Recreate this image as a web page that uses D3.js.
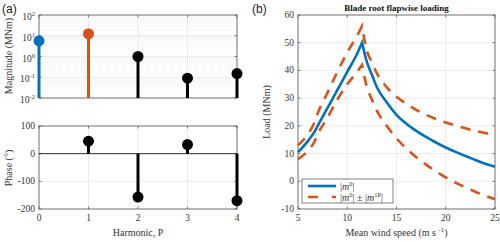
<!DOCTYPE html>
<html>
<head>
<meta charset="utf-8">
<script src="https://cdn.jsdelivr.net/npm/d3@7"></script>
<style>
body { margin: 0; background: #fff; }
svg { font-family: "Liberation Serif", "DejaVu Serif", serif; }
.tick text { fill: #333; font-size: 9.5px; }
</style>
</head>
<body>
<svg id="chart" width="500" height="242"></svg>
<script>
// (a) harmonic content
var harmonics = [0, 1, 2, 3, 4];
var magnitude = [5.7, 12.5, 1.0, 0.09, 0.15];
var magColors = ["#0072BD", "#D95319", "#000", "#000", "#000"];
var phaseHarm = [1, 2, 3, 4];
var phase = [45, -157, 33, -170];

// (b) blade root flapwise loading
var windSpeed = [5, 6, 6.7, 7, 8, 9, 10, 11, 11.5, 12, 12.5, 13, 14, 15, 16, 17, 18, 19, 20, 21, 22, 23, 24, 25];
var loadMean  = [10.5, 14.5, 18, 20, 26.5, 33, 39.5, 46, 50, 43, 38.5, 34, 28.5, 24, 20.8, 18.2, 16, 14, 12.2, 10.6, 9.1, 7.7, 6.3, 5.2];
var loadUpper = [13, 17, 21.5, 24.5, 32, 39.5, 46.5, 52.5, 56, 47, 43, 39, 34, 30.5, 28, 25.8, 24, 22.5, 21.2, 20.1, 19.1, 18.2, 17.4, 16.7];
var loadLower = [8, 11, 14.5, 17, 23, 29.5, 35, 39.5, 42, 34, 29.5, 25.5, 20, 15.5, 11.8, 8.7, 6, 3.6, 1.4, -0.5, -2.2, -3.8, -5.2, -6.5];
var peakIdx = 8;

var svg = d3.select("#chart");
var gridCol = "#e3e3e3", axisCol = "#4d4d4d";

function box(x0, x1, y0, y1) {
  svg.append("rect").attr("x", x0).attr("y", y0).attr("width", x1 - x0).attr("height", y1 - y0)
    .attr("fill", "none").attr("stroke", axisCol).attr("stroke-width", 0.8);
}
function tickMarks(xs, ys, xvals, yvals, x0, x1, y0, y1) {
  var g = svg.append("g").attr("stroke", axisCol).attr("stroke-width", 0.7);
  xvals.forEach(function(v) {
    g.append("line").attr("x1", xs(v)).attr("x2", xs(v)).attr("y1", y1).attr("y2", y1 - 2.5);
    g.append("line").attr("x1", xs(v)).attr("x2", xs(v)).attr("y1", y0).attr("y2", y0 + 2.5);
  });
  yvals.forEach(function(v) {
    g.append("line").attr("y1", ys(v)).attr("y2", ys(v)).attr("x1", x0).attr("x2", x0 + 2.5);
    g.append("line").attr("y1", ys(v)).attr("y2", ys(v)).attr("x1", x1).attr("x2", x1 - 2.5);
  });
}

// ---------- (a) top: magnitude ----------
var ax0 = 39, ax1 = 237;
var xa = d3.scaleLinear().domain([0, 4]).range([ax0, ax1]);
var ym = d3.scaleLog().domain([1e-2, 1e2]).range([98, 15]);

// minor grid (dotted)
var minor = [];
[0.01, 0.1, 1, 10].forEach(function(d) { for (var k = 2; k <= 9; k++) minor.push(d * k); });
svg.append("g").selectAll("line").data(minor).join("line")
  .attr("x1", ax0).attr("x2", ax1).attr("y1", d => ym(d)).attr("y2", d => ym(d))
  .attr("stroke", "#e8e8e8").attr("stroke-width", 0.6).attr("stroke-dasharray", "1,1");
svg.append("g").selectAll("line").data([1e-1, 1, 10]).join("line")
  .attr("x1", ax0).attr("x2", ax1).attr("y1", d => ym(d)).attr("y2", d => ym(d))
  .attr("stroke", gridCol).attr("stroke-width", 0.7);
svg.append("g").selectAll("line").data([1, 2, 3]).join("line")
  .attr("x1", d => xa(d)).attr("x2", d => xa(d)).attr("y1", 15).attr("y2", 98)
  .attr("stroke", gridCol).attr("stroke-width", 0.7);
box(ax0, ax1, 15, 98);
tickMarks(xa, ym, harmonics, [1e-2, 1e-1, 1, 10, 100], ax0, ax1, 15, 98);

var decades = [-2, -1, 0, 1, 2];
var ylab = svg.append("g").attr("font-size", 9.5).attr("fill", "#333").attr("text-anchor", "end");
decades.forEach(function(e) {
  var t = ylab.append("text").attr("x", ax0 - 4).attr("y", ym(Math.pow(10, e)) + 5);
  t.append("tspan").text("10");
  t.append("tspan").attr("dy", -4).attr("font-size", 6.5).text(e);
});

svg.append("g").selectAll("line").data(harmonics).join("line")
  .attr("x1", d => xa(d)).attr("x2", d => xa(d))
  .attr("y1", 98).attr("y2", (d, i) => ym(magnitude[i]))
  .attr("stroke", (d, i) => magColors[i]).attr("stroke-width", 3);
svg.append("g").selectAll("circle").data(harmonics).join("circle")
  .attr("cx", d => xa(d)).attr("cy", (d, i) => ym(magnitude[i])).attr("r", 5.5)
  .attr("fill", (d, i) => magColors[i]);

// ---------- (a) bottom: phase ----------
var yp = d3.scaleLinear().domain([-200, 100]).range([209, 126]);
svg.append("g").selectAll("line").data([-100, 0]).join("line")
  .attr("x1", ax0).attr("x2", ax1).attr("y1", d => yp(d)).attr("y2", d => yp(d))
  .attr("stroke", gridCol).attr("stroke-width", 0.7);
svg.append("g").selectAll("line").data([1, 2, 3]).join("line")
  .attr("x1", d => xa(d)).attr("x2", d => xa(d)).attr("y1", 126).attr("y2", 209)
  .attr("stroke", gridCol).attr("stroke-width", 0.7);
box(ax0, ax1, 126, 209);
tickMarks(xa, yp, harmonics, [-200, -100, 0, 100], ax0, ax1, 126, 209);

svg.append("g").attr("class", "tick").selectAll("text").data([-200, -100, 0, 100]).join("text")
  .attr("x", ax0 - 4).attr("y", d => yp(d) + 3).attr("text-anchor", "end").text(d => d);
svg.append("g").attr("class", "tick").selectAll("text").data(harmonics).join("text")
  .attr("x", d => xa(d)).attr("y", 221).attr("text-anchor", "middle").text(d => d);

svg.append("line").attr("x1", ax0).attr("x2", ax1).attr("y1", yp(0)).attr("y2", yp(0))
  .attr("stroke", "#000").attr("stroke-width", 0.8);
svg.append("g").selectAll("line").data(phaseHarm).join("line")
  .attr("x1", d => xa(d)).attr("x2", d => xa(d))
  .attr("y1", yp(0)).attr("y2", (d, i) => yp(phase[i]))
  .attr("stroke", "#000").attr("stroke-width", 3);
svg.append("g").selectAll("circle").data(phaseHarm).join("circle")
  .attr("cx", d => xa(d)).attr("cy", (d, i) => yp(phase[i])).attr("r", 5.5).attr("fill", "#000");

svg.append("text").attr("transform", "translate(12,56) rotate(-90)").attr("text-anchor", "middle")
  .attr("font-size", 10).attr("fill", "#333").text("Magnitude (MNm)");
svg.append("text").attr("transform", "translate(12,168) rotate(-90)").attr("text-anchor", "middle")
  .attr("font-size", 10).attr("fill", "#333").text("Phase (°)");
svg.append("text").attr("x", xa(2)).attr("y", 236).attr("text-anchor", "middle")
  .attr("font-size", 10).attr("fill", "#333").text("Harmonic, P");
svg.append("text").attr("x", 2).attr("y", 13).attr("font-family", "Liberation Sans, Arial, sans-serif")
  .attr("font-size", 12).attr("fill", "#222").text("(a)");

// ---------- (b) ----------
var bx0 = 298, bx1 = 495, by0 = 15, by1 = 209;
var xb = d3.scaleLinear().domain([5, 25]).range([bx0, bx1]);
var yb = d3.scaleLinear().domain([-10, 60]).range([by1, by0]);
var xbT = [5, 10, 15, 20, 25], ybT = [-10, 0, 10, 20, 30, 40, 50, 60];

svg.append("g").selectAll("line").data([10, 15, 20]).join("line")
  .attr("x1", d => xb(d)).attr("x2", d => xb(d)).attr("y1", by0).attr("y2", by1)
  .attr("stroke", gridCol).attr("stroke-width", 0.7);
svg.append("g").selectAll("line").data([0, 10, 20, 30, 40, 50]).join("line")
  .attr("x1", bx0).attr("x2", bx1).attr("y1", d => yb(d)).attr("y2", d => yb(d))
  .attr("stroke", gridCol).attr("stroke-width", 0.7);
box(bx0, bx1, by0, by1);
tickMarks(xb, yb, xbT, ybT, bx0, bx1, by0, by1);

svg.append("g").attr("class", "tick").selectAll("text").data(ybT).join("text")
  .attr("x", bx0 - 4).attr("y", d => yb(d) + 3).attr("text-anchor", "end").text(d => d);
svg.append("g").attr("class", "tick").selectAll("text").data(xbT).join("text")
  .attr("x", d => xb(d)).attr("y", 221).attr("text-anchor", "middle").text(d => d);

// smooth on each side of the peak, sharp corner at the peak
var seg = d3.line().x(d => xb(d[0])).y(d => yb(d[1])).curve(d3.curveMonotoneX);
function curvePath(vals) {
  var pts = windSpeed.map((w, i) => [w, vals[i]]);
  var a = seg(pts.slice(0, peakIdx + 1));
  var b = seg(pts.slice(peakIdx)).replace(/^M[^LC]*/, "");
  return a + b;
}
svg.append("path").attr("d", curvePath(loadUpper)).attr("fill", "none")
  .attr("stroke", "#D95319").attr("stroke-width", 2.6).attr("stroke-dasharray", "10,8");
svg.append("path").attr("d", curvePath(loadLower)).attr("fill", "none")
  .attr("stroke", "#D95319").attr("stroke-width", 2.6).attr("stroke-dasharray", "10,8");
svg.append("path").attr("d", curvePath(loadMean)).attr("fill", "none")
  .attr("stroke", "#0072BD").attr("stroke-width", 2.6);

// legend
svg.append("rect").attr("x", 302).attr("y", 179).attr("width", 91).attr("height", 24)
  .attr("fill", "#fff").attr("stroke", axisCol).attr("stroke-width", 0.7);
svg.append("line").attr("x1", 308).attr("x2", 336).attr("y1", 186).attr("y2", 186)
  .attr("stroke", "#0072BD").attr("stroke-width", 2.6);
svg.append("line").attr("x1", 308).attr("x2", 336).attr("y1", 197).attr("y2", 197)
  .attr("stroke", "#D95319").attr("stroke-width", 2.6).attr("stroke-dasharray", "10,14");
var l1 = svg.append("text").attr("x", 340).attr("y", 189.5).attr("font-size", 10).attr("fill", "#333");
l1.append("tspan").text("|");
l1.append("tspan").attr("font-style", "italic").text("m");
l1.append("tspan").attr("dy", -4).attr("font-size", 6.5).text("0");
l1.append("tspan").attr("dy", 4).text("|");
var l2 = svg.append("text").attr("x", 340).attr("y", 200.5).attr("font-size", 10).attr("fill", "#333");
l2.append("tspan").text("|");
l2.append("tspan").attr("font-style", "italic").text("m");
l2.append("tspan").attr("dy", -4).attr("font-size", 6.5).text("0");
l2.append("tspan").attr("dy", 4).text("| ± |");
l2.append("tspan").attr("font-style", "italic").text("m");
l2.append("tspan").attr("dy", -4).attr("font-size", 6.5).text("1P");
l2.append("tspan").attr("dy", 4).text("|");

svg.append("text").attr("x", (bx0 + bx1) / 2).attr("y", 11).attr("text-anchor", "middle")
  .attr("font-size", 9).attr("font-weight", "bold").attr("fill", "#111").text("Blade root flapwise loading");
svg.append("text").attr("transform", "translate(270,112) rotate(-90)").attr("text-anchor", "middle")
  .attr("font-size", 10).attr("fill", "#333").text("Load (MNm)");
var xl = svg.append("text").attr("x", (bx0 + bx1) / 2).attr("y", 236).attr("text-anchor", "middle")
  .attr("font-size", 10).attr("fill", "#333");
xl.append("tspan").text("Mean wind speed (m s ");
xl.append("tspan").attr("dy", -4).attr("font-size", 7).text("-1");
xl.append("tspan").attr("dy", 4).text(")");
svg.append("text").attr("x", 252).attr("y", 13).attr("font-family", "Liberation Sans, Arial, sans-serif")
  .attr("font-size", 12).attr("fill", "#222").text("(b)");
</script>
</body>
</html>
